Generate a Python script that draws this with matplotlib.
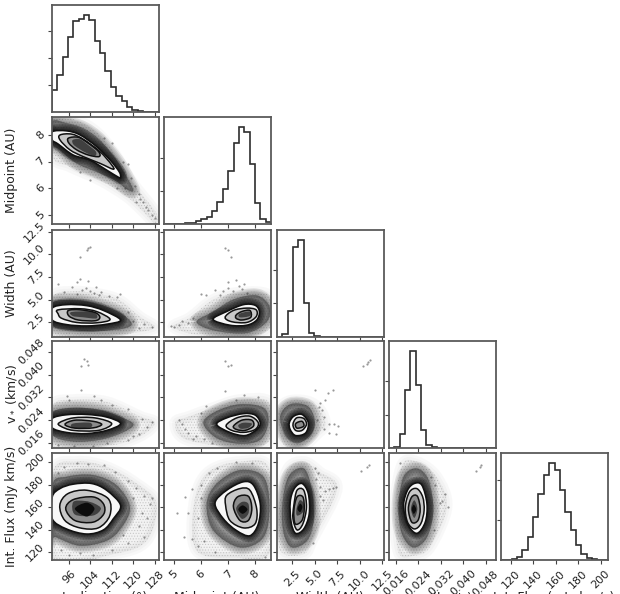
"""Corner plot of the disk ring posterior."""
import matplotlib
matplotlib.use("Agg")
import matplotlib.pyplot as plt
import numpy as np
from matplotlib.patches import PathPatch
from matplotlib.path import Path

labels = ["Inclination (°)", "Midpoint (AU)", "Width (AU)", r"v$_*$ (km/s)", "Int. Flux (mJy km/s)"]
x_ranges = [(89.7, 129.5), (4.63, 8.59), (0.83, 12.7), (0.0135, 0.0516), (111, 206.5)]
y_ranges = [None, (4.67, 8.67), (0.85, 12.7), (0.0142, 0.0519), (113, 208)]
tick_values = [
    [96, 104, 112, 120, 128],
    [5, 6, 7, 8],
    [2.5, 5.0, 7.5, 10.0, 12.5],
    [0.016, 0.024, 0.032, 0.040, 0.048],
    [120, 140, 160, 180, 200],
]
tick_labels = [
    ["96", "104", "112", "120", "128"],
    ["5", "6", "7", "8"],
    ["2.5", "5.0", "7.5", "10.0", "12.5"],
    ["0.016", "0.024", "0.032", "0.040", "0.048"],
    ["120", "140", "160", "180", "200"],
]

# marginal histograms, 20 bins over each axis range
inc_counts = [325, 545, 820, 1125, 1350, 1385, 1450, 1375, 1065, 885, 610, 370, 245, 170, 75, 35, 10, 5, 2, 1]
mid_counts = [0, 0, 2, 5, 8, 10, 40, 75, 110, 200, 325, 525, 800, 1225, 1465, 1385, 900, 315, 75, 25]
wid_counts = [5, 45, 380, 1335, 1445, 500, 60, 15, 5, 2, 1, 1, 1, 1, 0, 0, 0, 0, 0, 0]
vel_counts = [2, 15, 205, 875, 1455, 940, 265, 50, 10, 2, 1, 1, 1, 1, 1, 0, 0, 0, 0, 0]
flux_counts = [1, 5, 20, 50, 150, 340, 640, 990, 1275, 1460, 1350, 1050, 715, 450, 220, 85, 30, 10, 5, 2]
hist_ticks = [[400, 800, 1200], [500, 1000], [500, 1000], [500, 1000], [600, 1200]]

# density outlines: sparse halo, dense halo, then contours from outer to inner
inc_mid_halo = [
    [(89.8, 8.66), (98.8, 8.54), (106.2, 8.12), (113, 7.31), (119.9, 6.19), (128.6, 5.06), (128, 4.69), (123.7, 5.12), (117.5, 5.69), (107.5, 6.31), (96.4, 6.81), (89.8, 7.19)],
    [(89.8, 8.5), (95.1, 8.44), (101.3, 8.25), (107.5, 7.81), (113.7, 7.06), (117.4, 6.44), (119.9, 5.94), (118, 5.94), (113, 6.31), (106.2, 6.62), (98.8, 6.94), (92.6, 7.44), (89.8, 7.69)],
]
inc_mid_contours = [
    [(89.8, 8.12), (95.1, 8.15), (100.1, 8.0), (106.3, 7.56), (111.3, 7.06), (114.7, 6.62), (115.2, 6.42), (114.4, 6.42), (110, 6.69), (103.8, 7.06), (97.6, 7.25), (92, 7.66), (89.8, 7.81)],
    [(92.7, 8.0), (97, 8.03), (101.3, 7.84), (107.5, 7.38), (111.9, 6.88), (112.4, 6.72), (107.5, 6.94), (101.3, 7.19), (96.4, 7.44), (92.7, 7.81)],
    [(95.8, 7.88), (99.5, 7.91), (103.2, 7.69), (107, 7.38), (107.2, 7.19), (103.2, 7.25), (98.9, 7.44), (96, 7.69)],
    [(97.4, 7.81), (100.1, 7.84), (103.2, 7.62), (106, 7.38), (105.7, 7.22), (102.8, 7.31), (99.5, 7.5), (97.6, 7.65)],
]
inc_mid_dots = [(119, 6.4), (120.5, 6.1), (122, 5.8), (122.5, 5.6), (123.5, 5.5), (124.5, 5.3), (125.5, 5.2), (127, 5.0), (128, 4.9), (116, 7.0), (112, 7.7), (109, 7.9), (118, 6.9), (104, 6.3), (100, 6.6), (114, 6.0), (117, 6.0), (121, 5.5)]

inc_wid_halo = [
    [(89.8, 5.2), (97.6, 5.9), (107.5, 5.6), (115, 4.9), (122.4, 3.1), (128, 1.97), (122.4, 1.4), (107.5, 0.9), (89.8, 0.9)],
    [(89.8, 4.62), (98.9, 4.92), (107.5, 4.43), (114.9, 3.56), (119.3, 2.35), (116.2, 1.78), (107.5, 1.51), (97.6, 1.59), (89.8, 2.16)],
]
inc_wid_contours = [
    [(89.8, 4.05), (95.1, 4.43), (102.6, 4.32), (108.8, 3.79), (115.2, 2.73), (110, 2.27), (102.6, 2.08), (95.1, 2.23), (89.8, 2.73)],
    [(92, 3.86), (100.1, 3.98), (106.3, 3.67), (111.3, 2.8), (106.3, 2.42), (98.9, 2.46), (93.3, 2.92), (92, 3.41)],
    [(95.8, 3.79), (100.1, 3.86), (105.7, 3.56), (107.5, 3.03), (105.7, 2.65), (99.5, 2.73), (96, 3.18)],
    [(97, 3.62), (105, 3.62), (106.3, 2.92), (101.3, 3.03), (97.4, 3.18)],
]
inc_wid_dots = [(100.1, 9.74), (103.2, 10.7), (102.8, 10.5), (104, 10.8), (98.9, 6.9), (101, 6.1), (102.5, 6.3), (104, 5.9), (105.5, 5.7), (107, 5.5), (108, 5.8), (100, 7.3), (97, 6.4), (92, 6.7), (94, 5.8), (111, 5.4), (114, 5.3), (115, 5.6), (103, 7.0), (106, 6.4), (99, 5.6), (120, 2.6), (124, 2.3), (127, 2.0), (122, 1.9), (118, 3.6)]

inc_vel_halo = [
    [(89.8, 0.029), (97.6, 0.0312), (110, 0.0305), (122.4, 0.0254), (128, 0.0231), (122.4, 0.0183), (110, 0.0148), (89.8, 0.0145)],
    [(89.8, 0.0266), (97.6, 0.0284), (107.5, 0.0276), (115, 0.0252), (120, 0.0225), (115.6, 0.0195), (107.5, 0.0171), (97.6, 0.0165), (89.8, 0.0189)],
]
inc_vel_contours = [
    [(89.8, 0.0246), (95.1, 0.0259), (102.6, 0.026), (110, 0.0251), (115.2, 0.0228), (110, 0.0204), (102.6, 0.0193), (95.1, 0.0197), (89.8, 0.0213)],
    [(92.4, 0.0231), (97.6, 0.0248), (105.7, 0.0248), (111.9, 0.0228), (107, 0.0204), (97.6, 0.0204), (92.9, 0.0219)],
    [(94.5, 0.0225), (98.2, 0.024), (105, 0.0236), (108.2, 0.0225), (105, 0.0213), (98.2, 0.0212)],
    [(97.4, 0.0228), (103.8, 0.0231), (104, 0.0215), (97.6, 0.0213)],
]
inc_vel_dots = [(100.6, 0.0432), (102.8, 0.0448), (103.2, 0.0436), (101.5, 0.0455), (105.5, 0.0325), (95.1, 0.0325), (100.6, 0.0345), (96, 0.031), (108, 0.0312), (112, 0.0295), (118, 0.028), (123, 0.0245), (127, 0.0232), (125, 0.0215), (120, 0.0185), (122, 0.019), (118, 0.017), (110, 0.016), (92, 0.0152), (98, 0.0148), (105, 0.0148)]

mid_wid_halo = [
    [(4.98, 1.97), (5.59, 3.0), (6.46, 5.0), (7.44, 5.8), (8.56, 5.38), (8.58, 1.97), (7.69, 0.9), (5.96, 1.03)],
    [(5.84, 2.54), (6.46, 3.67), (7.2, 5), (8.06, 5.45), (8.53, 4.24), (8.43, 2.54), (7.69, 1.29), (6.46, 1.59)],
]
mid_wid_contours = [
    [(6.45, 2.8), (6.95, 3.67), (7.57, 4.43), (8, 4.36), (8.16, 3.67), (8.06, 2.73), (7.69, 2.16), (7.07, 2.16)],
    [(6.89, 3.03), (7.2, 3.79), (7.69, 4.05), (8.04, 3.86), (8.04, 3.1), (7.69, 2.46), (7.14, 2.54)],
    [(7.3, 3.29), (7.51, 3.67), (7.81, 3.79), (7.84, 3.03), (7.51, 2.73), (7.3, 2.92)],
    [(7.42, 3.41), (7.79, 3.67), (7.81, 3.18), (7.44, 3.03)],
]
mid_wid_dots = [(6.9, 10.7), (7.1, 9.74), (7.0, 10.5), (7.0, 6.9), (7.3, 7.2), (7.4, 6.5), (6.5, 6.0), (6.8, 5.9), (7.2, 5.9), (7.5, 6.2), (7.7, 5.7), (6.2, 5.5), (6.0, 5.6), (7.0, 6.3), (7.6, 6.7), (6.7, 5.5), (5.3, 2.6), (5.0, 2.0), (5.5, 2.4), (5.2, 2.2), (4.9, 2.1), (5.7, 3.0)]

mid_vel_halo = [
    [(5.04, 0.0231), (5.59, 0.0254), (6.46, 0.0284), (7.44, 0.0312), (8.56, 0.0302), (8.58, 0.0171), (7.44, 0.0145), (5.47, 0.0171)],
    [(6.09, 0.0231), (6.58, 0.0272), (7.44, 0.0296), (8.31, 0.0284), (8.49, 0.0231), (8.19, 0.0171), (7.44, 0.0157), (6.58, 0.0177)],
]
mid_vel_contours = [
    [(6.58, 0.0225), (6.95, 0.0248), (7.57, 0.0263), (8, 0.0258), (8.19, 0.0231), (8.06, 0.0207), (7.63, 0.0186), (7.07, 0.0197)],
    [(6.93, 0.0222), (7.32, 0.0248), (7.81, 0.0254), (8.12, 0.0231), (8, 0.0207), (7.57, 0.0197), (7.14, 0.0204)],
    [(7.2, 0.0219), (7.51, 0.024), (7.88, 0.024), (7.94, 0.0219), (7.63, 0.0204), (7.32, 0.0207)],
    [(7.38, 0.0222), (7.57, 0.0231), (7.88, 0.0228), (7.75, 0.0213), (7.47, 0.021)],
]
mid_vel_dots = [(6.9, 0.0448), (7.0, 0.0432), (7.1, 0.0436), (6.9, 0.0342), (7.6, 0.033), (8.1, 0.032), (5.3, 0.0225), (5.5, 0.0195), (5.2, 0.0242), (5.8, 0.0185), (5.7, 0.0172), (5.4, 0.0208), (6.0, 0.0265), (6.2, 0.029), (7.3, 0.031), (6.4, 0.016), (6.1, 0.0172)]

wid_vel_halo = [
    [(1.0, 0.0266), (2.1, 0.0307), (4.2, 0.0307), (5.6, 0.0278), (6.2, 0.0225), (5.4, 0.0195), (3.8, 0.0152), (1.6, 0.0152)],
    [(1.2, 0.0254), (2.3, 0.0296), (4.2, 0.029), (5, 0.0242), (4.7, 0.0195), (3.2, 0.0159), (1.8, 0.0183)],
]
wid_vel_contours = [
    [(2.2, 0.0231), (2.7, 0.0254), (3.6, 0.026), (4.3, 0.0231), (4.0, 0.0195), (2.9, 0.0186), (2.3, 0.0207)],
    [(2.6, 0.0225), (3, 0.0248), (3.8, 0.0246), (4.1, 0.0225), (3.6, 0.0204), (2.9, 0.0204)],
    [(2.9, 0.0228), (3.6, 0.0236), (3.8, 0.0219), (3.05, 0.0212)],
]
wid_vel_dots = [(10.4, 0.0432), (10.9, 0.0445), (11.1, 0.0452), (10.8, 0.0438), (5.6, 0.03), (6.2, 0.0312), (6.5, 0.0335), (7.0, 0.0345), (5.0, 0.0345), (6.0, 0.025), (6.6, 0.0225), (7.2, 0.0225), (7.6, 0.0218), (6.0, 0.021), (6.6, 0.0195), (7.4, 0.0192), (5.5, 0.0285), (5.8, 0.0275), (5.3, 0.024)]

inc_flux_halo = [
    [(89.8, 189.9), (98.9, 200.3), (110, 195.8), (121.2, 180.9), (128.6, 163), (124.9, 130.1), (112.5, 118.2), (90.2, 114)],
    [(89.8, 179.4), (95.1, 186.9), (105, 188.4), (113.7, 179.4), (118.7, 160), (115.6, 142), (110, 130.1), (100.1, 125.7), (91.4, 133.1), (89.8, 136.1)],
]
inc_flux_contours = [
    [(89.8, 169), (92.7, 176.4), (97.6, 180.3), (104.4, 180.9), (110, 174.9), (115.2, 161.5), (112.5, 149.6), (108.8, 139.7), (102.6, 136.1), (95.1, 140.6), (89.8, 149.6)],
    [(92.6, 161.5), (95.6, 171.9), (102.7, 174.9), (110.6, 167.5), (111.2, 152.5), (106.9, 141.5), (100.1, 141.5), (94.5, 148.1)],
    [(94.8, 158.5), (97.6, 166.6), (105, 169), (108.8, 163), (109, 154), (105, 146.6), (98.2, 148.1)],
    [(97.6, 164.5), (102, 165.4), (105.6, 163), (107.9, 158.5), (105, 152.5), (98.2, 153.4)],
    [(98.2, 158.5), (102.6, 163.9), (105.5, 158.5), (102.6, 151.6)],
]
inc_flux_dots = [(99, 199), (103, 198), (109, 197), (113, 191), (118, 183), (121, 177), (124, 170), (127, 168), (126, 163), (123, 155), (125, 150), (122, 143), (124, 133), (118, 128), (112, 122), (100, 119), (93, 122), (96, 117), (105, 117), (116, 135), (120, 168), (94, 196), (92, 190)]

mid_flux_halo = [
    [(5.72, 160), (6.21, 189.9), (7.44, 200.3), (8.56, 192.8), (8.58, 121.2), (7.2, 115.2), (5.84, 121.2)],
    [(6.21, 163), (6.58, 180.9), (7.44, 192.8), (8.31, 186.9), (8.53, 160), (8.31, 133.1), (7.44, 124.2), (6.46, 139.1)],
]
mid_flux_contours = [
    [(6.52, 163.6), (6.95, 174.9), (7.57, 182.4), (7.94, 179.4), (8.19, 163), (8.12, 145.1), (7.81, 134.6), (7.32, 139.1), (6.83, 149.6)],
    [(6.91, 161.5), (6.95, 170.4), (7.44, 176.4), (7.81, 174.9), (8.06, 158.5), (8, 145.1), (7.57, 141.5), (7.07, 148.1)],
    [(7.2, 160), (7.35, 169), (7.75, 169.6), (7.88, 158.5), (7.75, 148.1), (7.44, 148.1)],
    [(7.3, 158.5), (7.51, 164.5), (7.75, 163), (7.75, 154), (7.51, 149.6)],
    [(7.38, 157.9), (7.54, 161.5), (7.72, 157.9), (7.54, 154)],
]
mid_flux_dots = [(5.66, 176), (5.4, 169), (5.53, 155), (5.37, 133), (5.66, 132), (5.1, 155), (8.37, 116), (6.0, 180), (5.9, 150), (6.1, 130), (6.3, 190), (6.6, 195), (7.9, 199), (7.3, 200), (6.0, 168), (5.9, 125), (6.5, 120)]

wid_flux_halo = [
    [(1, 157), (1.95, 192.8), (3.8, 200.3), (5.6, 191), (7.5, 176.4), (4.9, 133.1), (3.8, 118.2), (1.2, 121.2)],
    [(1.4, 160), (2.1, 186.9), (3.8, 194.3), (4.7, 174.9), (4.9, 148.1), (4.15, 130.1), (2.5, 124.2), (1.6, 136.1)],
]
wid_flux_contours = [
    [(2.3, 164.5), (2.75, 176.4), (3.6, 180.9), (4.3, 171.9), (4.4, 154), (3.8, 140.6), (2.9, 136.7), (2.4, 146.6)],
    [(2.7, 161.5), (3.05, 174.9), (3.8, 174.9), (4.1, 160), (3.7, 145.1), (3.05, 139.7), (2.6, 149.6)],
    [(2.7, 157), (3.05, 169), (3.7, 169), (3.85, 158.5), (3.6, 148.1), (2.85, 145.1)],
    [(3, 158.5), (3.35, 166), (3.8, 163), (3.7, 155.5), (3.05, 152.5)],
    [(3.1, 158.5), (3.4, 163), (3.65, 160), (3.4, 155.5)],
]
wid_flux_dots = [(10.1, 192), (10.8, 196), (11.0, 197), (5.6, 178), (6.2, 174), (6.6, 176), (7.0, 177), (7.4, 178), (5.4, 190), (5.9, 166), (5.2, 185), (5.0, 195), (5.6, 170), (4.8, 128)]

vel_flux_halo = [
    [(0.0157, 160), (0.0181, 197.3), (0.0234, 200.3), (0.0305, 186.9), (0.0341, 160), (0.0281, 124.2), (0.0222, 116.7), (0.0169, 119.7)],
    [(0.0169, 160), (0.0187, 186.9), (0.0234, 194.3), (0.0276, 183.9), (0.0293, 157), (0.027, 133.1), (0.0222, 124.2), (0.0181, 136.1)],
]
vel_flux_contours = [
    [(0.0187, 161.5), (0.0201, 174.9), (0.0225, 180.9), (0.0252, 179.4), (0.027, 163), (0.0264, 146.6), (0.0234, 136.7), (0.0201, 145.1)],
    [(0.0193, 160), (0.0208, 173.4), (0.0234, 176.4), (0.0255, 169), (0.026, 157), (0.0248, 145.1), (0.0225, 140.6), (0.0201, 146.6)],
    [(0.0204, 158.5), (0.0216, 169), (0.0236, 169.6), (0.0246, 158.5), (0.0238, 148.1), (0.0216, 146.6)],
    [(0.0213, 158.5), (0.0225, 166), (0.0236, 158.5), (0.0225, 150.4)],
    [(0.0216, 157.9), (0.0223, 162.1), (0.0232, 157.9), (0.0223, 154)],
]
vel_flux_dots = [(0.0445, 192), (0.046, 196), (0.0462, 197), (0.0315, 164), (0.0325, 165), (0.0345, 160), (0.03, 180), (0.0295, 140), (0.0285, 187), (0.0335, 172), (0.0175, 199)]

pair_panels = [
    (1, 0, inc_mid_halo, inc_mid_contours, inc_mid_dots),
    (2, 0, inc_wid_halo, inc_wid_contours, inc_wid_dots),
    (3, 0, inc_vel_halo, inc_vel_contours, inc_vel_dots),
    (4, 0, inc_flux_halo, inc_flux_contours, inc_flux_dots),
    (2, 1, mid_wid_halo, mid_wid_contours, mid_wid_dots),
    (3, 1, mid_vel_halo, mid_vel_contours, mid_vel_dots),
    (4, 1, mid_flux_halo, mid_flux_contours, mid_flux_dots),
    (3, 2, wid_vel_halo, wid_vel_contours, wid_vel_dots),
    (4, 2, wid_flux_halo, wid_flux_contours, wid_flux_dots),
    (4, 3, vel_flux_halo, vel_flux_contours, vel_flux_dots),
]
band_grays = ["#f8f8f8", "#c8c8c8", "#8c8c8c", "#404040", "#0c0c0c"]


def smooth_path(points):
    # closed curve through the read outline points
    pts = np.asarray(points, dtype=float)
    prev_p, next_p = np.roll(pts, 1, axis=0), np.roll(pts, -1, axis=0)
    next2 = np.roll(pts, -2, axis=0)
    verts = [pts[0]]
    codes = [Path.MOVETO]
    for p0, p1, p2, p3 in zip(prev_p, pts, next_p, next2):
        verts += [p1 + (p2 - p0) / 6, p2 - (p3 - p1) / 6, p2]
        codes += [Path.CURVE4] * 3
    return Path(verts, codes)


def soft_fill(ax, points, color, widths, alpha, zorder=2):
    path = smooth_path(points)
    for lw in widths:
        ax.add_patch(PathPatch(path, facecolor=color, edgecolor=color, lw=lw, alpha=alpha, zorder=zorder))


def setup_axes(fig, row, col):
    x0, y0 = col_left[col], row_top[row]
    ax = fig.add_axes([x0 / 620, 1 - (y0 + 107) / 594, 107 / 620, 107 / 594])
    for spine in ax.spines.values():
        spine.set_color("#5a5a5a")
        spine.set_linewidth(1.3)
        spine.set_zorder(6)
    ax.tick_params(length=3, width=0.8, color="#444444", labelsize=8, labelcolor="#222222")
    ax.tick_params(axis="x", pad=3)
    ax.tick_params(axis="y", pad=1)
    return ax


col_left = [52, 164, 277, 389, 501]
row_top = [5, 117, 230, 341, 453]
hists = [inc_counts, mid_counts, wid_counts, vel_counts, flux_counts]

plt.rcParams["hatch.linewidth"] = 0.5
fig = plt.figure(figsize=(6.2, 5.94), dpi=100)

for i, counts in enumerate(hists):
    ax = setup_axes(fig, i, i)
    edges = np.linspace(x_ranges[i][0], x_ranges[i][1], len(counts) + 1)
    ax.stairs(counts, edges, color="#2e2e2e", lw=1.2)
    ax.set_xlim(x_ranges[i])
    ax.set_ylim(0, 1.1 * max(counts))
    ax.set_yticks(hist_ticks[i])
    ax.set_yticklabels([])
    ax.set_xticks(tick_values[i])
    if i == 4:
        ax.set_xticklabels(tick_labels[i], rotation=45, ha="center")
    else:
        ax.set_xticklabels([])

for row, col, halo, contours, dots in pair_panels:
    ax = setup_axes(fig, row, col)
    soft_fill(ax, halo[0], "#a8a8a8", [8, 4], 0.07)
    # stipple stands in for the thin outer scatter of samples
    ax.add_patch(PathPatch(smooth_path(halo[0]), facecolor="none", edgecolor="#777777", lw=0, hatch="......", alpha=0.3, zorder=2.05))
    soft_fill(ax, halo[1], "#2a2a2a", [10, 8, 6, 4, 2, 0.5], 0.1, zorder=2.1)
    # the cloud turns almost black right outside the lowest contour
    soft_fill(ax, contours[0], "#000000", [9, 7, 5, 3, 1.5], 0.24, zorder=2.2)
    for level, outline in enumerate(contours):
        path = smooth_path(outline)
        ax.add_patch(PathPatch(path, facecolor=band_grays[level], edgecolor="none", zorder=3 + 0.1 * level))
        if level < 3:
            ax.add_patch(PathPatch(path, facecolor="none", edgecolor="#111111", lw=1.1, zorder=4.5))
    dot_x, dot_y = zip(*dots)
    ax.scatter(dot_x, dot_y, s=2.5, color="#333333", alpha=0.5, linewidths=0, zorder=2.5)
    ax.set_xlim(x_ranges[col])
    ax.set_ylim(y_ranges[row])
    ax.set_xticks(tick_values[col])
    ax.set_yticks(tick_values[row])
    if row == 4:
        ax.set_xticklabels(tick_labels[col], rotation=45, ha="center")
    else:
        ax.set_xticklabels([])
    if col == 0:
        ax.set_yticklabels(tick_labels[row], rotation=45, va="center")
    else:
        ax.set_yticklabels([])

for i, label in enumerate(labels):
    fig.text((col_left[i] + 53) / 620, 1 - 598 / 594, label, ha="center", va="center", fontsize=9, color="#222222")
    if i > 0:
        fig.text(12 / 620, 1 - (row_top[i] + 53) / 594, label, rotation=90, ha="center", va="center", fontsize=9, color="#222222")

fig.savefig("out.png", dpi=100)
plt.close(fig)
